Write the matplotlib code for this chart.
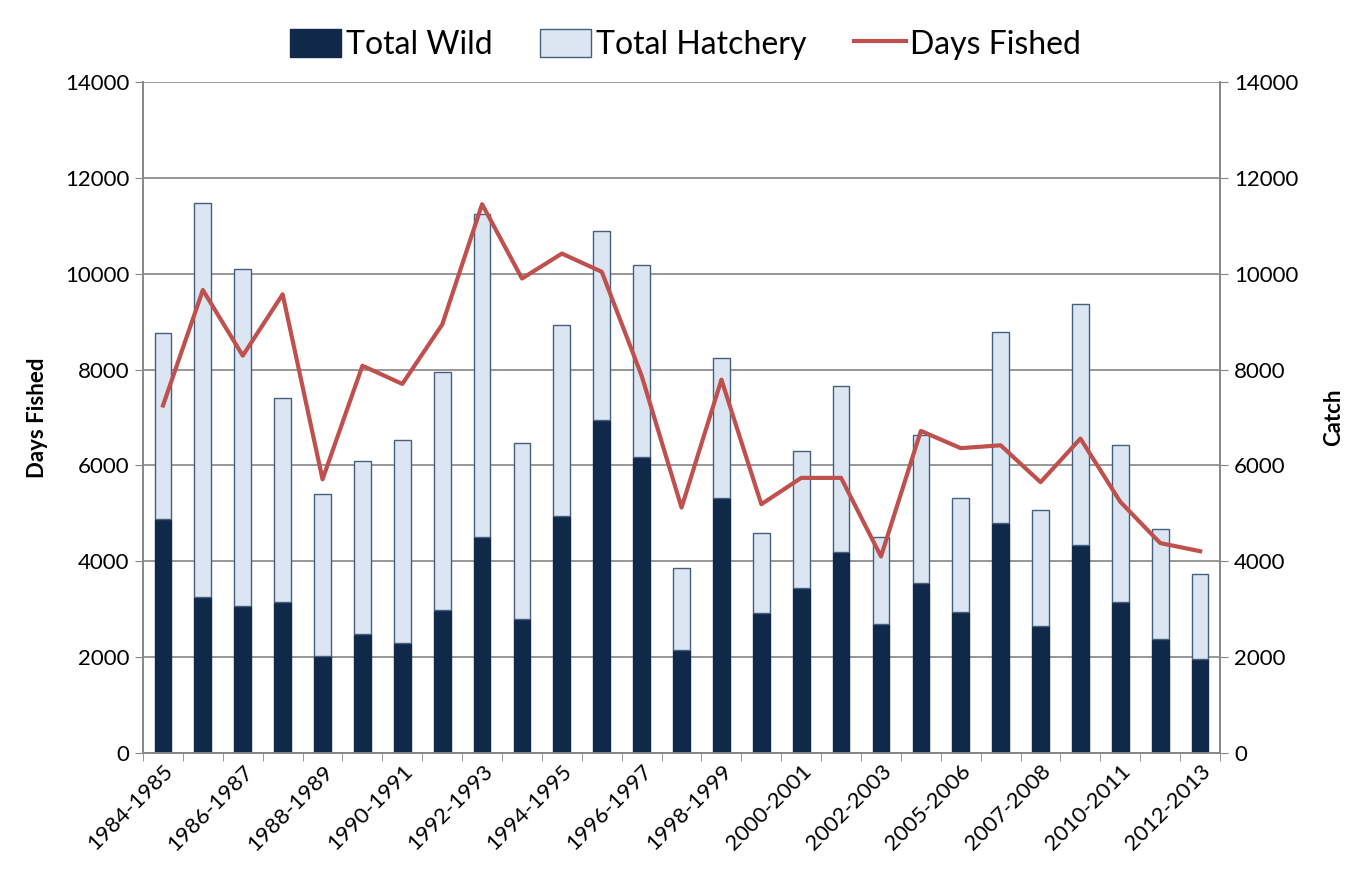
import matplotlib.pyplot as plt
import numpy as np

# seasons (only every second one is labelled on the axis)
seasons = ['1984-1985', '1985-1986', '1986-1987', '1987-1988', '1988-1989',
           '1989-1990', '1990-1991', '1991-1992', '1992-1993', '1993-1994',
           '1994-1995', '1995-1996', '1996-1997', '1997-1998', '1998-1999',
           '1999-2000', '2000-2001', '2001-2002', '2002-2003', '2004-2005',
           '2005-2006', '2006-2007', '2007-2008', '2009-2010', '2010-2011',
           '2011-2012', '2012-2013']

total_wild = [4880, 3260, 3060, 3160, 2020, 2480, 2290, 2990, 4500, 2790,
              4940, 6950, 6180, 2150, 5330, 2920, 3450, 4190, 2690, 3550,
              2940, 4790, 2640, 4350, 3140, 2370, 1960]
total_catch = [8760, 11470, 10090, 7400, 5400, 6100, 6540, 7950, 11240, 6470,
               8920, 10900, 10190, 3860, 8240, 4590, 6300, 7650, 4510, 6630,
               5310, 8780, 5080, 9370, 6420, 4680, 3730]
total_hatchery = [t - w for t, w in zip(total_catch, total_wild)]
days_fished = [7250, 9660, 8290, 9570, 5710, 8080, 7700, 8940, 11450, 9900,
               10420, 10040, 7870, 5120, 7790, 5190, 5740, 5740, 4100, 6720,
               6360, 6420, 5650, 6560, 5240, 4380, 4210]

plt.rcParams['font.family'] = ['Lato', 'DejaVu Sans']

x = np.arange(len(seasons))
grid_c = '#868686'

fig = plt.figure(figsize=(13.52, 8.77), dpi=100)
ax = fig.add_axes([0.1058, 0.1414, 0.7966, 0.7651])

b1 = ax.bar(x, total_wild, width=0.42, color='#10284a', edgecolor='#10284a',
            linewidth=1, zorder=2, label='Total Wild')
b2 = ax.bar(x, total_hatchery, width=0.42, bottom=total_wild, color='#dce6f2',
            edgecolor='#44607f', linewidth=1, zorder=2, label='Total Hatchery')

ax.set_xlim(-0.5, len(seasons) - 0.5)
ax.set_ylim(0, 14000)
ax.set_yticks(range(0, 14001, 2000))
ax.yaxis.grid(True, color=grid_c, linewidth=1.2, zorder=0)
ax.set_axisbelow(True)

ax.set_xticks(x[::2])
ax.set_xticklabels(seasons[::2], rotation=45, ha='right', rotation_mode='anchor',
                   fontsize=16)
ax.tick_params(axis='x', length=0, pad=6)
ax.set_xticks(np.arange(-0.5, len(seasons), 1), minor=True)
ax.tick_params(axis='x', which='minor', length=6, color=grid_c, direction='out')
ax.tick_params(axis='y', labelsize=16, length=6, color=grid_c, pad=4)
ax.set_ylabel('Days Fished', fontsize=16, fontweight='bold', labelpad=12)

ax.spines['top'].set_visible(False)
for s in ['left', 'bottom', 'right']:
    ax.spines[s].set_color(grid_c)
    ax.spines[s].set_linewidth(1.2)

ax2 = ax.twinx()
l1, = ax2.plot(x, days_fished, color='#c0504d', linewidth=3, zorder=3,
               label='Days Fished')
ax2.set_ylim(0, 14000)
ax2.set_yticks(range(0, 14001, 2000))
ax2.tick_params(axis='y', labelsize=16, length=6, color=grid_c, pad=4)
ax2.set_ylabel('Catch', fontsize=16, fontweight='bold', labelpad=18)
ax2.spines['top'].set_visible(False)
for s in ['left', 'bottom', 'right']:
    ax2.spines[s].set_color(grid_c)
    ax2.spines[s].set_linewidth(1.2)

fig.legend(handles=[b1, b2, l1], loc='upper center', bbox_to_anchor=(0.507, 1.0),
           ncol=3, frameon=False, fontsize=23, handlelength=1.6,
           handleheight=1.0, handletextpad=0.15, columnspacing=1.5)

plt.savefig('out.png', dpi=100)
